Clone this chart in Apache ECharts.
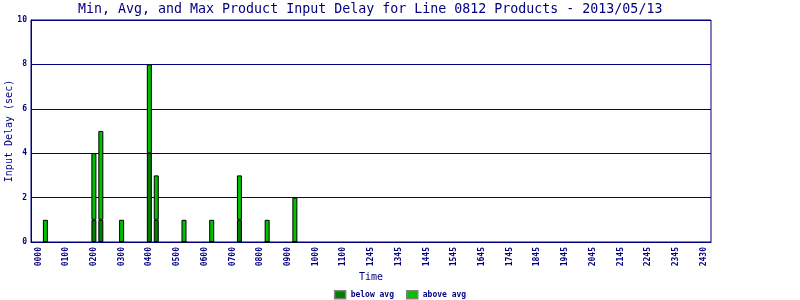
<!DOCTYPE html>
<html>
<head>
<meta charset="utf-8">
<script src="https://cdn.jsdelivr.net/npm/echarts@6/dist/echarts.min.js"></script>
<style>html,body{margin:0;padding:0;background:#fff}#c{width:800px;height:300px}</style>
</head>
<body>
<div id="c"></div>
<script>
// Tick labels shown every 4th time slot
var tickLabels = ['0000','0100','0200','0300','0400','0500','0600','0700','0800','0900','1000','1100','1245','1345','1445','1545','1645','1745','1845','1945','2045','2145','2245','2345','2430'];
// Time slot index of each bar (4 slots per label)
var slots    = [1, 8, 9, 12, 16, 17, 21, 25, 29, 33, 37];
// Below-average part (sec)
var belowAvg = [0, 1, 1, 0, 4, 1, 0, 0, 1, 0, 0];
// Above-average part (sec), stacked on top
var aboveAvg = [1, 3, 4, 1, 4, 2, 1, 1, 2, 1, 2];
var yTicks = [0, 2, 4, 6, 8, 10];

var NAVY = '#000080';
var MONO = 'DejaVu Sans Mono';
var SLOT_COUNT = (tickLabels.length - 1) * 4 + 1;
var slotNames = [];
for (var i = 0; i < SLOT_COUNT; i++) slotNames.push(String(i));

var chart = echarts.init(document.getElementById('c'), null, {renderer: 'canvas'});
chart.setOption({
  animation: false,
  backgroundColor: '#fff',
  title: {
    text: 'Min, Avg, and Max Product Input Delay for Line 0812 Products - 2013/05/13',
    left: 78, top: 3, padding: 0,
    textStyle: {color: NAVY, fontFamily: MONO, fontSize: 13.3, fontWeight: 'normal'}
  },
  legend: {
    top: 290, left: 'center', padding: 0,
    itemWidth: 11, itemHeight: 8, itemGap: 12,
    icon: 'rect',
    textStyle: {color: NAVY, fontFamily: MONO, fontSize: 8, fontWeight: 'bold'},
    data: [
      {name: 'below avg', itemStyle: {color: '#007f00', borderColor: '#808080', borderWidth: 1.5}},
      {name: 'above avg', itemStyle: {color: '#00c000', borderColor: '#808080', borderWidth: 1.5}}
    ]
  },
  grid: [
    {left: 31, right: 89, top: 20, bottom: 58, show: true, borderColor: NAVY, borderWidth: 1,
     containLabel: false, outerBoundsMode: 'none'},
    {left: 35, right: 92.8, top: 20, bottom: 58, containLabel: false, outerBoundsMode: 'none'}
  ],
  xAxis: [
    {
      gridIndex: 0, type: 'value', min: 0, max: 1, show: true,
      name: 'Time', nameLocation: 'middle', nameGap: 30,
      nameTextStyle: {color: NAVY, fontFamily: MONO, fontSize: 10},
      axisLine: {show: true, lineStyle: {color: NAVY, width: 1}},
      axisTick: {show: false}, axisLabel: {show: false}, splitLine: {show: false}
    },
    {
      gridIndex: 1, type: 'category', data: slotNames, boundaryGap: true,
      axisLine: {show: false},
      axisTick: {show: false},
      splitLine: {show: false},
      axisLabel: {
        interval: 3,
        rotate: 90, margin: 5,
        color: NAVY, fontFamily: MONO, fontSize: 8, fontWeight: 'bold',
        formatter: function (v) { var n = parseInt(v, 10); return n % 4 === 0 ? (tickLabels[n / 4] || '') : ''; }
      }
    }
  ],
  yAxis: [
    {
      gridIndex: 0, type: 'value', min: 0, max: 10, interval: 2,
      name: 'Input Delay (sec)', nameLocation: 'middle', nameGap: 17, nameMoveOverlap: false,
      nameTextStyle: {color: NAVY, fontFamily: MONO, fontSize: 10},
      axisLine: {show: true, onZero: false, lineStyle: {color: NAVY, width: 1}},
      axisTick: {show: false},
      splitLine: {show: true, lineStyle: {color: NAVY, width: 1}},
      axisLabel: {color: NAVY, fontFamily: MONO, fontSize: 8, fontWeight: 'bold', margin: 4,
        formatter: function (v) { return yTicks.indexOf(v) >= 0 ? String(v) : ''; }}
    },
    {
      gridIndex: 1, type: 'value', min: 0, max: 10, interval: 2, show: false,
      splitLine: {show: false}
    }
  ],
  series: [
    {
      name: 'below avg', type: 'bar', stack: 'd', barWidth: 5,
      xAxisIndex: 1, yAxisIndex: 1,
      itemStyle: {color: '#007f00', borderColor: '#000', borderWidth: 1},
      data: slots.map(function (s, i) { return [s, belowAvg[i]]; })
    },
    {
      name: 'above avg', type: 'bar', stack: 'd', barWidth: 5,
      xAxisIndex: 1, yAxisIndex: 1,
      itemStyle: {color: '#00c000', borderColor: '#000', borderWidth: 1},
      data: slots.map(function (s, i) { return [s, aboveAvg[i]]; })
    }
  ]
});
</script>
</body>
</html>
